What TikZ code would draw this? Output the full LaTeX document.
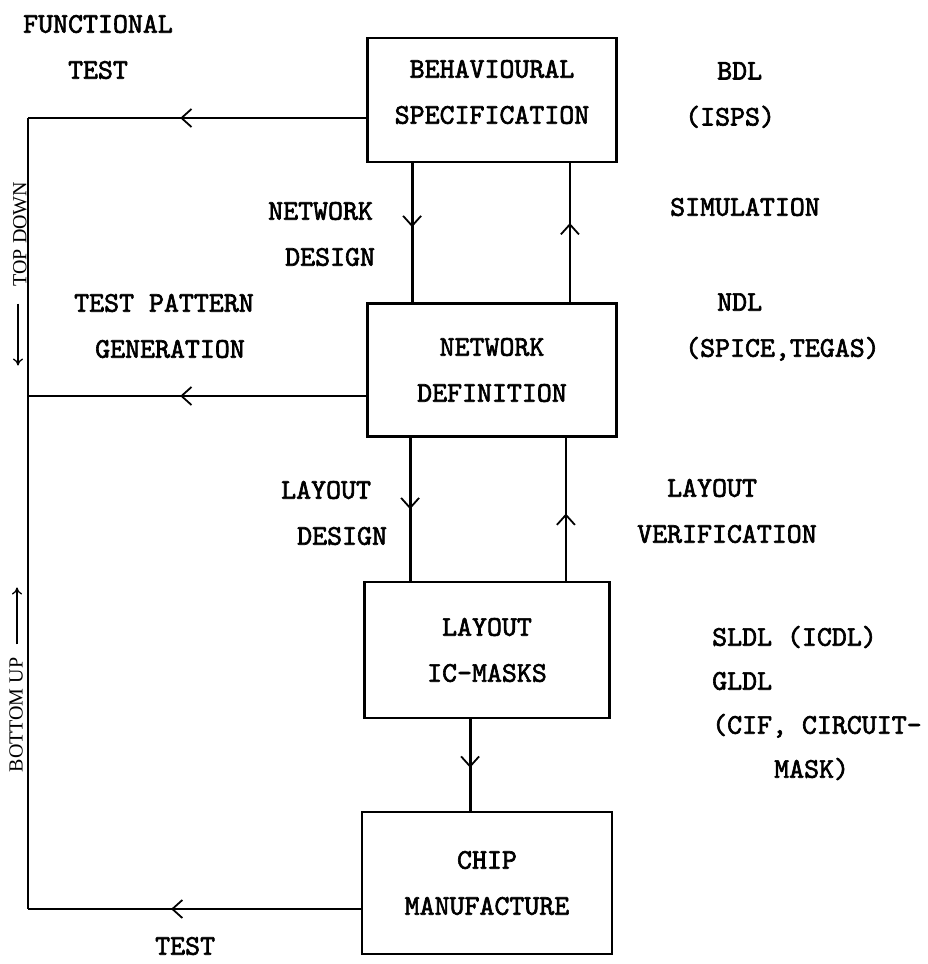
\documentclass[tikz,border=0pt]{standalone}
\usepackage{fontspec}
\newfontfamily\sideserif{Liberation Serif}
\newfontfamily\twfam{lmmono10-regular.otf}[FakeBold=2.2]
\usetikzlibrary{arrows.meta,decorations.markings,positioning}
\newcommand{\twfont}{\twfam\fontsize{28.5}{46}\selectfont}
\tikzstyle{box} = [draw, line width=2.8pt, minimum width=249pt, align=center, inner sep=0pt, font=\twfont]
\tikzstyle{lbl} = [anchor=west, align=left, inner sep=0pt, font=\twfont]
\tikzstyle{side} = [rotate=90, inner sep=0pt, font=\sideserif\fontsize{20}{24}\selectfont]
\tikzset{mid/.style={postaction={decorate}, decoration={markings,
  mark=at position #1 with {\arrow{Straight Barb[length=10pt,width=18pt,line width=1.8pt]}}}}}

\begin{document}
\begin{tikzpicture}[x=1pt,y=-1pt]
  \useasboundingbox (0,0) rectangle (928,964);

  \node[box,minimum height=124pt] (behav) at (492,100) {};
  \node[lbl,anchor=center,align=center] (behavtxt) at (492,92) {BEHAVIOURAL\\SPECIFICATION};
  \node[box,below of=behav,node distance=270pt,minimum height=133pt] (netdef) {NETWORK\\DEFINITION};
  \node[box,below of=netdef,node distance=280pt,xshift=-5pt,minimum height=136pt,minimum width=245pt] (layout) {LAYOUT\\IC-MASKS};
  \node[box,below of=layout,node distance=233pt,minimum height=142pt,minimum width=250pt] (chip) {CHIP\\MANUFACTURE};

  \node[lbl,anchor=center,align=center] (functest) at (98,47) {FUNCTIONAL\\TEST};
  \node[lbl] (bdl) at (685,95) {\hspace*{32pt}BDL\\(ISPS)};
  \node[lbl] (netdes) at (268,234) {NETWORK\\\hspace*{17pt}DESIGN};
  \node[lbl] (sim) at (670,207) {SIMULATION};
  \node[lbl] (testpat) at (74,326) {TEST PATTERN\\\hspace*{21pt}GENERATION};
  \node[lbl] (ndl) at (685,327) {\hspace*{32pt}NDL\\(SPICE,TEGAS)};
  \node[lbl] (laydes) at (281,513) {LAYOUT\\\hspace*{16pt}DESIGN};
  \node[lbl] (layver) at (637,511) {\hspace*{30pt}LAYOUT\\VERIFICATION};
  \node[lbl,font=\twfam\fontsize{28.5}{44}\selectfont] (sldl) at (712,703) {SLDL (ICDL)\\GLDL\\(CIF, CIRCUIT-\\\hspace*{62pt}MASK)};
  \node[lbl] (test) at (155,946) {TEST};

  \node[side] (topdown) at (20,234) {TOP DOWN};
  \node[side] (botup) at (16,715) {BOTTOM UP};
  \draw[-{To[length=7pt,width=10pt]},line width=1.3pt] (topdown.west) ++(-2,17) -- ++(0,62);
  \draw[-{To[length=7pt,width=10pt]},line width=1.3pt] (botup.east) ++(1,-13) -- ++(0,-57);

  \coordinate (tl) at (28,118);
  \coordinate (ml) at (28,396);
  \coordinate (bl) at (28,909);
  \coordinate (d1) at ([xshift=46pt]behav.south west);
  \coordinate (u1) at ([xshift=-48pt]behav.south east);
  \coordinate (d2) at ([xshift=44pt]netdef.south west);
  \coordinate (u2) at ([xshift=-52pt]netdef.south east);
  \coordinate (d3) at ([xshift=107pt]layout.south west);

  \begin{scope}[every path/.style={line width=2.8pt}]
    \draw[mid=0.55] (behav.west |- tl) -- (tl);
    \draw (tl) -- (bl);
    \draw[mid=0.55] (netdef.west |- ml) -- (ml);
    \draw[mid=0.57] (chip.west |- bl) -- (bl);
    \draw[mid=0.46] (d1) -- (d1 |- netdef.north);
    \draw[mid=0.57] (u1 |- netdef.north) -- (u1);
    \draw[mid=0.5] (d2) -- (d2 |- layout.north);
    \draw[mid=0.47] (u2 |- layout.north) -- (u2);
    \draw[mid=0.53] (d3) -- (d3 |- chip.north);
  \end{scope}
\end{tikzpicture}
\end{document}
